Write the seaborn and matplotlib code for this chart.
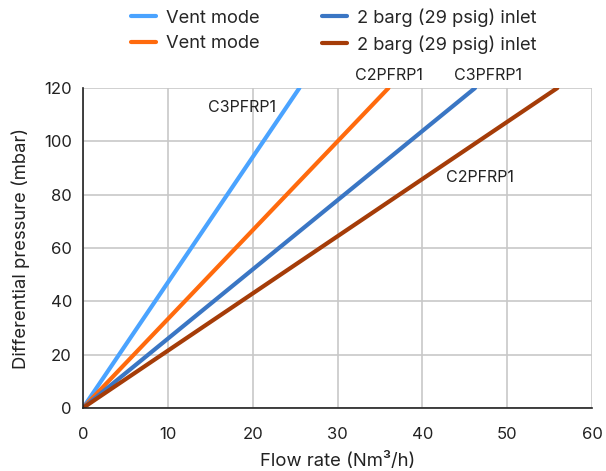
import pandas as pd
import matplotlib.pyplot as plt
import seaborn as sns

# Données (droites depuis l'origine)
flow_c3_vent = [0, 25.5]
flow_c2_vent = [0, 36.0]
flow_c3_inlet = [0, 46.2]
flow_c2_inlet = [0, 55.9]
dp = [0, 120]

series = [
    ("Vent mode", flow_c3_vent, "#4aa3ff"),
    ("Vent mode", flow_c2_vent, "#ff6a0d"),
    ("2 barg (29 psig) inlet", flow_c3_inlet, "#3a76c4"),
    ("2 barg (29 psig) inlet", flow_c2_inlet, "#a53c08"),
]

sns.set_style("whitegrid")
plt.rcParams['font.family'] = ['Inter', 'DejaVu Sans']

fig = plt.figure(figsize=(6.06, 4.71), dpi=100)
ax = fig.add_axes([0.137, 0.134, 0.840, 0.679])

for name, x, color in series:
    df = pd.DataFrame({'flow': x, 'dp': dp})
    sns.lineplot(data=df, x='flow', y='dp', ax=ax, color=color, linewidth=3,
                 label=name, solid_capstyle='round')

ax.set_xlim(0, 60)
ax.set_ylim(0, 120)
ax.set_xticks(range(0, 61, 10))
ax.set_yticks(range(0, 121, 20))
ax.grid(color='#c8c8c8', linewidth=1.2)
for s in ['top', 'right']:
    ax.spines[s].set_visible(False)
for s in ['left', 'bottom']:
    ax.spines[s].set_color('#222222')
    ax.spines[s].set_linewidth(1.2)
ax.tick_params(axis='both', labelsize=12, colors='#222222', length=0)
ax.tick_params(axis='x', pad=14)
ax.tick_params(axis='y', pad=8)
ax.set_xlabel("Flow rate (Nm³/h)", fontsize=13.3, color='#222222', labelpad=7)
ax.set_ylabel("Differential pressure (mbar)", fontsize=13.3, color='#222222', labelpad=10)

# Étiquettes des courbes
lbl = dict(fontsize=11.5, ha='center', va='center', color='#222222', clip_on=False)
ax.text(18.75, 112.7, "C3PFRP1", **lbl)
ax.text(36.1, 124.7, "C2PFRP1", **lbl)
ax.text(47.7, 124.7, "C3PFRP1", **lbl)
ax.text(46.8, 86.5, "C2PFRP1", **lbl)

ax.legend(ncol=2, loc='lower center', bbox_to_anchor=(0.493, 1.085), frameon=False,
          fontsize=13.2, handlelength=1.37, columnspacing=3.4, labelspacing=0.45,
          handletextpad=0.55, borderaxespad=0)

plt.savefig('out.png', dpi=100)
